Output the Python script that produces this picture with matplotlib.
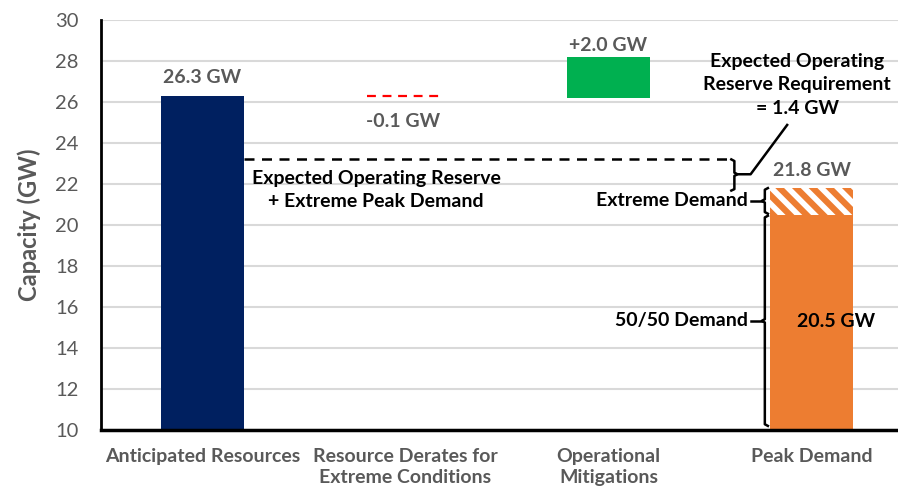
import matplotlib
matplotlib.use("Agg")
import matplotlib.pyplot as plt

plt.rcParams['font.family'] = ['Lato', 'DejaVu Sans']
plt.rcParams['hatch.linewidth'] = 4

# Chart values (GW)
categories = ["Anticipated Resources", "Resource Derates for\nExtreme Conditions",
              "Operational\nMitigations", "Peak Demand"]
anticipated = 26.3
derate = -0.1
mitigation = 2.0
demand_5050 = 20.5
demand_extreme = 21.8
reserve_req = 1.4
y_ticks = [10, 12, 14, 16, 18, 20, 22, 24, 26, 28, 30]

gray = "#595959"
fig = plt.figure(figsize=(8.98, 4.94), dpi=100)
ax = fig.add_axes([101 / 898, 1 - 430 / 494, 797 / 898, 410 / 494])

bw = 0.41
# Anticipated resources
ax.bar(0, anticipated - 10, bottom=10, width=bw, color="#002060", zorder=3)
# Derates: shown as a red dashed line at the top of the step
after_derate = anticipated + derate
ax.hlines(anticipated, 1 - 0.19, 1 + 0.18, colors="red", linestyles=(0, (4, 3)),
          linewidth=1.6, zorder=3)
# Operational mitigations
ax.bar(2, mitigation, bottom=after_derate, width=bw, color="#00B050", zorder=3)
# Peak demand: 50/50 part plus hatched extreme part
ax.bar(3, demand_5050 - 10, bottom=10, width=bw, color="#ED7D31", zorder=3)
ax.bar(3, demand_extreme - demand_5050, bottom=demand_5050, width=bw,
       color="#ED7D31", edgecolor="white", hatch="\\\\", linewidth=0, zorder=3)

# Reserve + extreme demand dashed line
reserve_top = demand_extreme + reserve_req
ax.hlines(reserve_top, bw / 2, 2.62, colors="black", linestyles=(0, (4, 3)),
          linewidth=1.8, zorder=4)

# Right bracket for the reserve requirement
bx = 2.62
mid = (reserve_top + demand_extreme - 0.05) / 2
ax.plot([bx - 0.015, bx, bx, bx + 0.015, bx, bx, bx - 0.015],
        [reserve_top, reserve_top - 0.08, mid + 0.08, mid, mid - 0.08,
         demand_extreme - 0.05, demand_extreme - 0.12],
        color="black", lw=1.8, zorder=4, solid_joinstyle="round")
ax.plot([bx + 0.015, 2.70, 2.88], [mid, mid, 24.88], color="black", lw=1.8, zorder=4)

# Left brackets for the demand parts
def left_bracket(x0, top, bot, tick_to):
    m = (top + bot) / 2
    ax.plot([x0 + 0.015, x0, x0, x0 - 0.015, x0, x0, x0 + 0.015],
            [top, top - 0.08, m + 0.08, m, m - 0.08, bot + 0.08, bot],
            color="black", lw=1.8, zorder=4, clip_on=False)
    ax.plot([x0 - 0.015, tick_to], [m, m], color="black", lw=1.8, zorder=4)
    return m

m1 = left_bracket(2.77, demand_extreme, demand_5050 + 0.05, 2.70)
m2 = left_bracket(2.77, demand_5050 - 0.05, 10.2, 2.70)

# Text annotations
bold = dict(fontweight="bold", fontsize=14)
ax.text(0, anticipated + 0.5, f"{anticipated} GW", ha="center", va="bottom", color=gray, **bold)
ax.text(0.99, 25.07, f"{derate} GW", ha="center", va="center", color=gray, **bold)
ax.text(2, after_derate + mitigation + 0.55, f"+{mitigation} GW", ha="center",
        va="center", color=gray, **bold)
ax.text(3.0, 22.68, f"{demand_extreme} GW", ha="center", va="center", color=gray, **bold)
ax.text(3.12, 15.27, f"{demand_5050} GW", ha="center", va="center", color="black", **bold)
ax.text(2.93, 26.83, f"Expected Operating\nReserve Requirement\n= {reserve_req} GW",
        ha="center", va="center", color="black", linespacing=1.45, **bold)
ax.text(0.855, 21.72, "Expected Operating Reserve\n+ Extreme Peak Demand",
        ha="center", va="center", color="black", linespacing=1.45, **bold)
ax.text(2.685, m1, "Extreme Demand", ha="right", va="center", color="black", **bold)
ax.text(2.685, m2, "50/50 Demand", ha="right", va="center", color="black", **bold)

# Axes styling
ax.set_xlim(-0.5, 3.426)
ax.set_ylim(10, 30)
ax.set_yticks(y_ticks)
ax.set_xticks(range(len(categories)))
ax.set_xticklabels(categories, fontsize=14, fontweight="bold", color=gray,
                   linespacing=1.3, va="top")
ax.tick_params(axis="y", labelsize=14.5, colors=gray, length=0, pad=16)
ax.tick_params(axis="x", length=0, pad=13)
ax.grid(axis="y", color="#D9D9D9", linewidth=1.5, zorder=0)
ax.set_axisbelow(True)
for s in ["top", "right"]:
    ax.spines[s].set_visible(False)
ax.spines["left"].set_linewidth(2)
ax.spines["bottom"].set_linewidth(2.5)
ax.spines["bottom"].set_zorder(5)
ax.set_ylabel("Capacity (GW)", fontsize=17, fontweight="bold", color=gray, labelpad=10)

fig.savefig("out.png", dpi=100)
